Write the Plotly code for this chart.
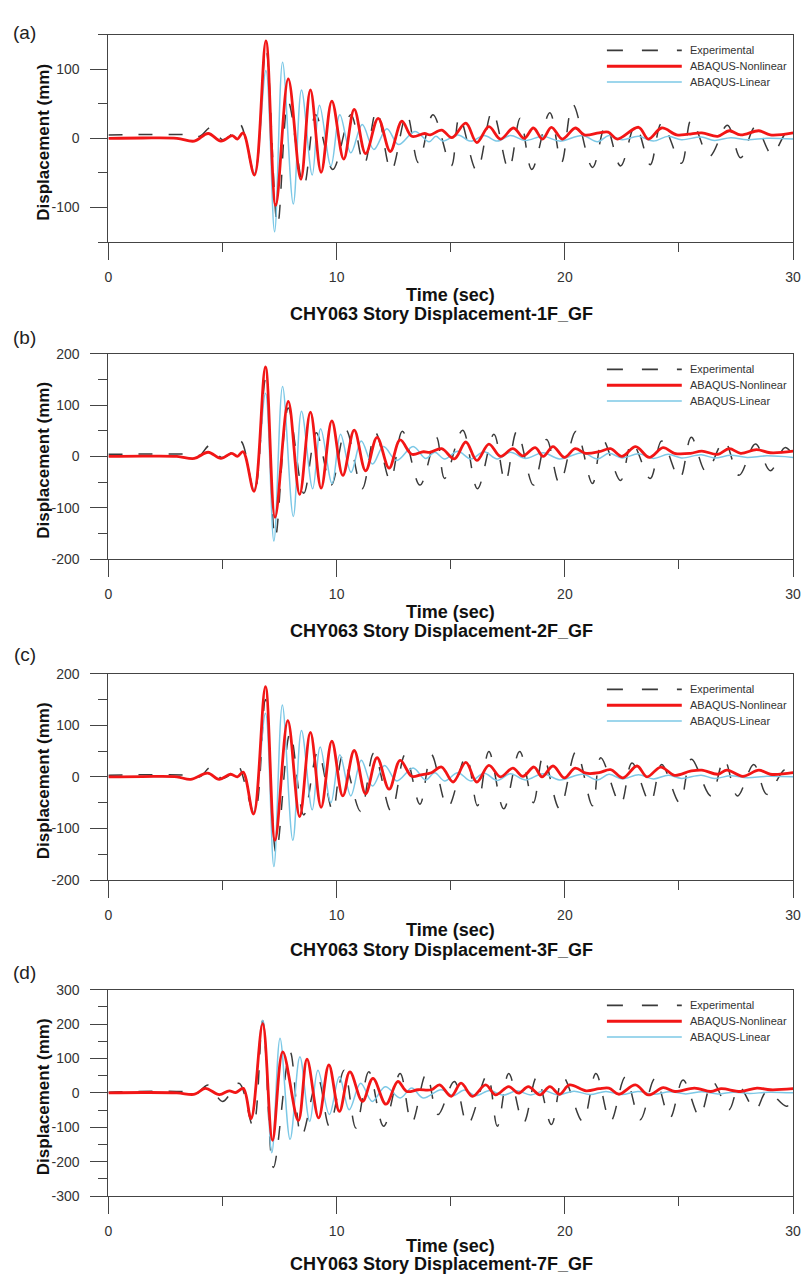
import plotly.graph_objects as go

W, H = 808, 1288

# ---------------- data (time in s, displacement in mm) ----------------
# Panel (a) 1F
t_exp_a = [0, 3.6, 4.0, 4.5, 5.0, 5.3, 5.75, 6.4, 6.9, 7.41, 7.88, 8.56, 9.08, 9.83, 10.62, 11.2, 11.75, 12.39, 13.07, 13.58, 14.22, 15.02, 15.38, 16.14, 16.82, 17.54, 18.04, 18.55, 19.34, 19.85, 20.35, 21.21, 21.79, 22.44, 23.09, 23.74, 24.24, 25.11, 25.54, 26.33, 27.12, 27.7, 28.35, 29.07, 29.72, 30]
d_exp_a = [5, 5, 3, 16, -2, 3, 21, -50, 130, -126, 53, -69, 34, -45, 34, -38, 40, -47, 35, -35, 34, -40, 31, -47, 39, -45, 29, -45, 37, -35, 49, -42, 19, -40, 19, -38, 22, -36, 27, -26, 19, -28, 17, -23, 8, -5]
t_nl_a = [0, 1.5, 3.0, 3.76, 4.37, 4.93, 5.43, 5.65, 5.9, 6.4, 6.9, 7.33, 7.88, 8.43, 8.85, 9.32, 9.79, 10.31, 10.77, 11.27, 11.82, 12.35, 12.86, 13.29, 13.85, 14.1, 14.6, 15.05, 15.66, 16.14, 16.67, 17.18, 17.75, 18.22, 18.62, 19.02, 19.41, 19.89, 20.46, 20.85, 21.5, 21.9, 22.3, 23.23, 23.66, 24.24, 24.9, 25.4, 26.0, 26.7, 27.2, 27.7, 28.5, 29.0, 30.0]
d_nl_a = [0, 0.5, 0, -4, 7, -4, 4, -1, 8, -53, 141, -97, 86, -59, 70, -49, 54, -30, 42, -22, 29, -19, 25, 3, 7, 5, 12, 1, 22, -6, 17, -1, 15, 0, 15, -1, 16, -1, 15, 5, 8, 9, -1, 16, -1, 15, 5, 6, 8, 3, 11, 5, 11, 5, 8]
t_lin_a = [0, 1.5, 3.0, 3.76, 4.37, 4.93, 5.43, 5.65, 5.9, 6.4, 6.9, 7.28, 7.63, 8.1, 8.46, 8.93, 9.25, 9.75, 10.14, 10.62, 11.12, 11.63, 12.2, 12.71, 13.43, 14.05, 14.35, 14.66, 15.31, 15.88, 16.46, 17.04, 17.61, 18.26, 19.05, 19.77, 20.78, 21.43, 21.93, 22.51, 23.23, 23.88, 24.53, 25.11, 25.97, 26.55, 27.27, 27.99, 28.85, 30]
d_lin_a = [0, 0.5, 0, -4, 7, -4, 4, -1, 8, -50, 98, -135, 110, -95, 70, -53, 48, -40, 34, -21, 20, -16, 14, -9, 10, -5, 3, -4, 5, -4, 4, -4, 4, -3, 3, -4, 4, -5, 4, -2, 3, -4, 3, -2, 2, -3, 1, -2, 0, -1]

# Panel (b) 2F
t_exp_b = [0, 3.6, 4.0, 4.43, 4.95, 5.3, 5.79, 6.4, 6.88, 7.31, 7.88, 8.56, 9.11, 9.76, 10.4, 11.12, 11.7, 12.35, 12.88, 13.65, 14.37, 14.73, 15.52, 16.17, 16.89, 17.39, 17.9, 18.62, 19.2, 19.77, 20.49, 21.21, 21.65, 22.44, 22.94, 23.74, 24.24, 25.03, 25.54, 26.19, 26.98, 27.63, 28.35, 29.0, 29.64, 30]
d_exp_b = [4, 4, 2, 21, -2, 4, 30, -68, 150, -159, 94, -72, 46, -56, 52, -63, 46, -47, 49, -56, 37, -43, 51, -63, 43, -50, 49, -56, 33, -53, 49, -53, 33, -47, 27, -43, 30, -43, 37, -30, 30, -37, 24, -28, 17, 2]
t_nl_b = [0, 1.5, 3.0, 3.76, 4.37, 4.93, 5.4, 5.65, 5.9, 6.38, 6.88, 7.3, 7.88, 8.38, 8.85, 9.32, 9.79, 10.27, 10.77, 11.27, 11.77, 12.3, 12.78, 13.29, 13.8, 14.1, 14.6, 15.16, 15.66, 16.14, 16.67, 17.18, 17.72, 18.16, 18.7, 19.05, 19.48, 19.98, 20.45, 20.9, 21.5, 22.0, 22.5, 23.1, 23.7, 24.3, 24.8, 25.5, 26.0, 26.7, 27.2, 27.7, 28.4, 29.0, 30.0]
d_nl_b = [0, 0.5, 0, -4, 8, -4, 6, 0, 9, -68, 174, -119, 107, -74, 86, -62, 69, -37, 51, -28, 37, -23, 32, 4, 9, 8, 15, -5, 28, -8, 24, 0, 15, 1, 17, 0, 19, -2, 15, 6, 9, 15, 0, 19, -2, 17, 6, 6, 10, 4, 15, 6, 13, 7, 10]
t_lin_b = [0, 1.5, 3.0, 3.76, 4.37, 4.93, 5.4, 5.65, 5.9, 6.38, 6.88, 7.25, 7.63, 8.1, 8.46, 8.95, 9.3, 9.8, 10.17, 10.63, 11.08, 11.57, 12.05, 12.63, 13.35, 13.9, 14.3, 14.73, 15.31, 15.88, 16.46, 17.04, 17.61, 18.26, 19.05, 19.77, 20.78, 21.43, 21.93, 22.51, 23.23, 23.88, 24.53, 25.11, 25.97, 26.55, 27.27, 27.99, 28.85, 30]
d_lin_b = [0, 0.5, 0, -4, 8, -4, 6, 0, 9, -65, 123, -165, 136, -117, 88, -63, 54, -53, 43, -31, 30, -15, 19, -8, 19, -4, 8, -5, 10, -5, 9, -5, 8, -4, 7, -5, 7, -5, 6, -3, 5, -4, 4, -3, 3, -3, 2, -2, 1, -2]

# Panel (c) 3F
t_exp_c = [0, 3.6, 4.0, 4.5, 4.95, 5.3, 5.65, 6.4, 6.88, 7.35, 7.96, 8.56, 9.18, 9.83, 10.26, 11.05, 11.63, 12.39, 13.0, 13.65, 14.15, 14.87, 15.67, 16.17, 16.67, 17.32, 18.02, 18.62, 19.05, 19.77, 20.49, 21.21, 21.57, 22.44, 22.94, 23.74, 24.24, 25.03, 25.54, 26.4, 26.98, 27.56, 28.28, 28.85, 29.64, 30]
d_exp_c = [3, 3, 0, 19, -3, 3, 24, -70, 150, -148, 85, -74, 49, -66, 40, -67, 46, -67, 43, -53, 43, -59, 40, -56, 49, -62, 49, -50, 40, -62, 49, -56, 37, -53, 27, -50, 24, -50, 34, -37, 34, -37, 24, -34, 14, 3]
t_nl_c = [0, 1.5, 3.0, 3.6, 4.35, 4.85, 5.35, 5.65, 5.9, 6.36, 6.88, 7.3, 7.86, 8.38, 8.85, 9.32, 9.79, 10.27, 10.77, 11.27, 11.77, 12.3, 12.78, 13.29, 13.7, 14.15, 14.6, 15.1, 15.66, 16.14, 16.67, 17.18, 17.72, 18.16, 18.65, 19.0, 19.48, 19.98, 20.45, 20.93, 21.5, 22.0, 22.55, 23.16, 23.6, 24.2, 24.8, 25.5, 26.0, 26.7, 27.1, 27.8, 28.5, 29.0, 30.0]
d_nl_c = [0, 0.5, 0, -5, 7, -5, 5, 0, 9, -72, 175, -123, 109, -77, 86, -59, 69, -37, 51, -33, 37, -24, 32, 1, 4, 8, 19, -10, 28, -10, 22, 0, 17, 1, 19, 0, 21, -2, 17, 7, 8, 14, -2, 21, 0, 19, 3, 11, 13, 5, 13, 1, 13, 5, 8]
t_lin_c = [0, 1.5, 3.0, 3.6, 4.35, 4.85, 5.35, 5.65, 5.9, 6.36, 6.88, 7.25, 7.62, 8.08, 8.46, 8.93, 9.28, 9.75, 10.14, 10.62, 11.08, 11.57, 12.1, 12.63, 13.35, 13.9, 14.3, 14.73, 15.31, 15.88, 16.46, 17.04, 17.61, 18.26, 19.05, 19.77, 20.78, 21.43, 21.93, 22.51, 23.23, 23.88, 24.53, 25.11, 25.97, 26.55, 27.27, 27.99, 28.85, 30]
d_lin_c = [0, 0.5, 0, -5, 7, -5, 5, 0, 9, -68, 123, -174, 139, -123, 90, -64, 58, -50, 43, -37, 32, -18, 22, -8, 17, -6, 8, -8, 8, -8, 7, -7, 6, -6, 6, -6, 5, -6, 5, -4, 4, -4, 3, -3, 3, -3, 2, -2, 1, 0]

# Panel (d) 7F
t_exp_d = [0, 3.5, 3.8, 4.38, 5.0, 5.72, 6.34, 6.76, 7.23, 7.96, 8.46, 9.18, 9.68, 10.33, 10.84, 11.41, 12.06, 12.78, 13.29, 13.93, 14.44, 15.16, 15.74, 16.6, 17.04, 17.54, 18.19, 18.77, 19.41, 19.92, 20.78, 21.36, 22.0, 22.65, 23.3, 23.95, 24.6, 25.18, 25.9, 26.47, 27.19, 27.63, 28.35, 28.85, 29.72, 30]
d_exp_d = [2, 2, -5, 23, -25, 28, -97, 210, -217, 119, -126, 42, -97, 66, -102, 61, -97, 56, -87, 56, -63, 33, -92, 52, -97, 56, -87, 46, -92, 46, -83, 56, -83, 46, -78, 42, -73, 37, -68, 32, -49, 18, -49, 4, -39, -5]
t_nl_d = [0, 1.5, 3.0, 3.78, 4.24, 4.86, 5.29, 5.58, 5.91, 6.25, 6.76, 7.19, 7.64, 8.32, 8.7, 9.21, 9.66, 10.12, 10.58, 11.13, 11.59, 12.16, 12.68, 13.07, 13.57, 14.15, 14.51, 15.02, 15.45, 15.95, 16.53, 16.96, 17.54, 17.97, 18.4, 18.91, 19.34, 19.77, 20.2, 20.93, 21.5, 21.93, 22.37, 23.09, 23.66, 24.31, 24.82, 25.68, 26.4, 26.84, 27.7, 28.42, 29.0, 30.0]
d_nl_d = [0, 1, 0, -4, 13, -5, 6, 1, 13, -75, 201, -138, 119, -81, 98, -73, 81, -54, 61, -25, 42, -33, 33, 4, 9, 9, 23, -10, 28, -10, 23, -6, 18, -1, 18, -6, 18, -4, 23, 6, 12, 14, -4, 23, -6, 15, 4, 14, 4, 12, 4, 14, 9, 12]
t_lin_d = [0, 1.5, 3.0, 3.78, 4.24, 4.86, 5.29, 5.58, 5.91, 6.25, 6.76, 7.16, 7.52, 7.96, 8.39, 8.82, 9.18, 9.68, 10.12, 10.55, 11.05, 11.56, 12.13, 12.78, 13.29, 13.79, 14.58, 15.1, 15.6, 16.1, 16.7, 17.3, 17.9, 18.5, 19.1, 19.7, 20.4, 21.1, 21.8, 22.5, 23.2, 23.9, 24.6, 25.3, 26.0, 26.7, 27.4, 28.1, 28.9, 30]
d_lin_d = [0, 1, 0, -4, 13, -5, 6, 1, 13, -70, 210, -174, 159, -135, 105, -83, 66, -63, 47, -49, 28, -25, 18, -15, 14, -15, 9, -8, 8, -8, 7, -7, 6, -6, 6, -6, 5, -5, 4, -5, 4, -4, 3, -3, 3, -3, 2, -2, 2, 0]

panel_labels = ["(a)", "(b)", "(c)", "(d)"]
subtitles = ["CHY063 Story Displacement-1F_GF", "CHY063 Story Displacement-2F_GF",
             "CHY063 Story Displacement-3F_GF", "CHY063 Story Displacement-7F_GF"]
y_ranges = [[-150, 150], [-200, 200], [-200, 200], [-300, 300]]
x_ticks = [0, 10, 20, 30]
series_names = ["Experimental", "ABAQUS-Nonlinear", "ABAQUS-Linear"]

data = [
    (t_exp_a, d_exp_a, t_nl_a, d_nl_a, t_lin_a, d_lin_a),
    (t_exp_b, d_exp_b, t_nl_b, d_nl_b, t_lin_b, d_lin_b),
    (t_exp_c, d_exp_c, t_nl_c, d_nl_c, t_lin_c, d_lin_c),
    (t_exp_d, d_exp_d, t_nl_d, d_nl_d, t_lin_d, d_lin_d),
]

# ---------------- layout geometry (pixels) ----------------
X_LEFT, X_RIGHT = 106, 801
tops = [27, 350, 674, 994]
bots = [237, 558, 883, 1203]
label_y = [25, 334, 655, 977]
time_y = [291, 612, 934, 1254]
sub_y = [310, 631, 954, 1272]

EXP_COLOR = "#3a3a3a"
NL_COLOR = "#f21616"
LIN_COLOR = "#7cc8e6"
AX_COLOR = "#444444"
FONT = "Arial, Liberation Sans, sans-serif"


def px(x):
    return x / W


def py(y):
    return 1 - y / H


def note(text, x, y, size, color="#111", angle=0, xanchor="center"):
    return dict(text=text, x=px(x), y=py(y), xref="paper", yref="paper", showarrow=False,
                xanchor=xanchor, yanchor="middle", textangle=angle,
                font=dict(size=size, color=color, family=FONT))


fig = go.Figure()
layout = dict(width=W, height=H, margin=dict(l=0, r=0, t=0, b=0),
              paper_bgcolor="white", plot_bgcolor="white", showlegend=False,
              font=dict(family=FONT, color="#333"))
annotations = []
shapes = []

for i in range(4):
    n = "" if i == 0 else str(i + 1)
    xa, ya = "x" + n, "y" + n
    te, de, tn, dn, tl, dl = data[i]
    fig.add_trace(go.Scatter(x=te, y=de, xaxis=xa, yaxis=ya, mode="lines", name=series_names[0],
                             line=dict(color=EXP_COLOR, width=1.5, dash="14px,16px", shape="spline", smoothing=1)))
    fig.add_trace(go.Scatter(x=tl, y=dl, xaxis=xa, yaxis=ya, mode="lines", name=series_names[2],
                             line=dict(color=LIN_COLOR, width=1.5, shape="spline", smoothing=1)))
    fig.add_trace(go.Scatter(x=tn, y=dn, xaxis=xa, yaxis=ya, mode="lines", name=series_names[1],
                             line=dict(color=NL_COLOR, width=2.8, shape="spline", smoothing=1)))

    common = dict(showline=True, linecolor=AX_COLOR, linewidth=1.2, mirror=True,
                  ticks="outside", ticklen=17, tickwidth=1.2, tickcolor=AX_COLOR,
                  showgrid=False, zeroline=False, ticklabeloverflow="allow",
                  tickfont=dict(size=14, color="#333", family=FONT))
    lo, hi = y_ranges[i]
    yt = [v for v in range(-300, 301, 100) if lo <= v <= hi]
    layout["xaxis" + n] = dict(common, domain=[px(X_LEFT), px(X_RIGHT)], range=[0, 30],
                               anchor=ya, tickmode="array", tickvals=x_ticks,
                               ticktext=[str(v) for v in x_ticks], ticklabelstandoff=5,
                               minor=dict(tickmode="linear", dtick=5, tick0=0, ticklen=9, ticks="outside",
                                          tickwidth=1.2, tickcolor=AX_COLOR))
    layout["yaxis" + n] = dict(common, domain=[py(bots[i]), py(tops[i])], range=y_ranges[i],
                               anchor=xa, tickmode="array", tickvals=yt, ticktext=[str(v) for v in yt],
                               ticklabelstandoff=8,
                               minor=dict(tickmode="linear", dtick=50, tick0=0, ticklen=9, ticks="outside",
                                          tickwidth=1.2, tickcolor=AX_COLOR))

    # text
    annotations.append(note(panel_labels[i], 21, label_y[i], 19, "#222"))
    annotations.append(note("<b>Displacement (mm)</b>", 40, (tops[i] + bots[i]) / 2 + 4, 17, angle=-90))
    annotations.append(note("<b>Time (sec)</b>", 453, time_y[i], 18))
    annotations.append(note("<b>" + subtitles[i] + "</b>", 444, sub_y[i], 18))

    # legend (drawn manually to match long symbol lines)
    rows = [tops[i] + 16, tops[i] + 32, tops[i] + 48]
    styles = [dict(color=EXP_COLOR, width=1.8, dash="16px,19px"),
              dict(color=NL_COLOR, width=3),
              dict(color=LIN_COLOR, width=1.5)]
    for r, nm, st in zip(rows, series_names, styles):
        shapes.append(dict(type="line", xref="paper", yref="paper", x0=px(612), x1=px(688),
                           y0=py(r), y1=py(r), line=st))
        annotations.append(note(nm, 694, r, 11, "#333", xanchor="left"))

layout["annotations"] = annotations
layout["shapes"] = shapes
fig.update_layout(**layout)
fig.write_html("out.html")
